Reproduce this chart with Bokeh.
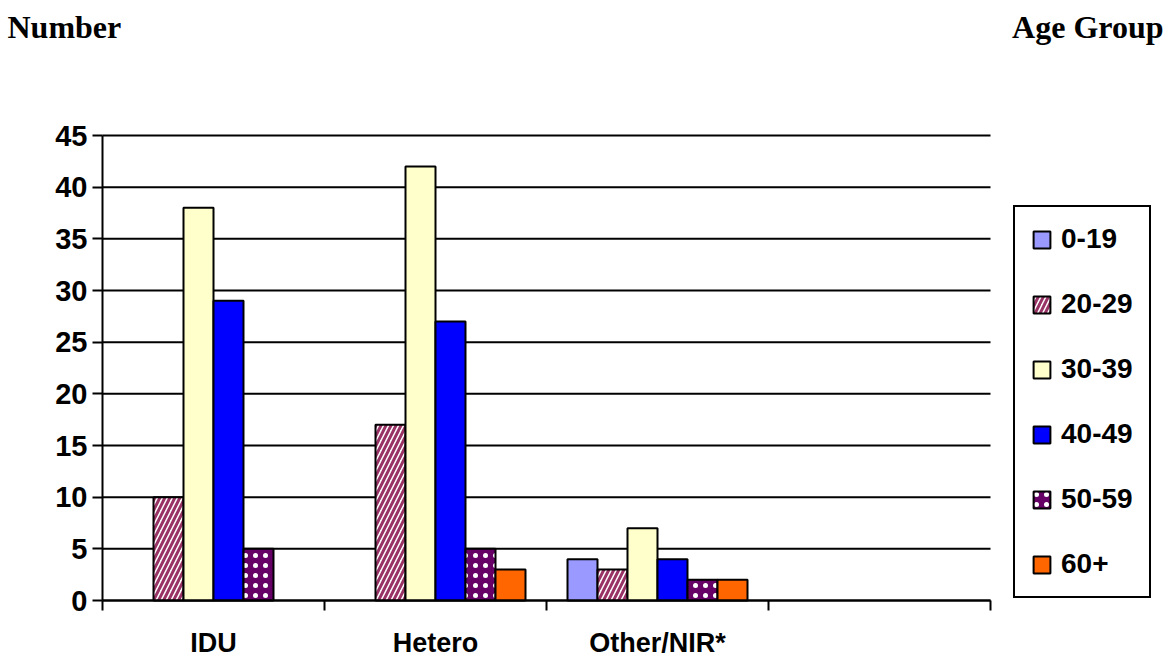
from bokeh.plotting import figure
from bokeh.models import (ColumnDataSource, Range1d, FixedTicker, Legend, LegendItem, Label)
from bokeh.embed import file_html
from bokeh.resources import INLINE

# Transmission categories (the fourth slot on the axis is left empty)
categories = ["IDU", "Hetero", "Other/NIR*"]
age_groups = ["0-19", "20-29", "30-39", "40-49", "50-59", "60+"]

# Counts per age group, one list per category
idu = [0, 10, 38, 29, 5, 0]
hetero = [0, 17, 42, 27, 5, 3]
other = [4, 3, 7, 4, 2, 2]

y_ticks = [0, 5, 10, 15, 20, 25, 30, 35, 40, 45]

header_left = "Number"
header_right = "Age Group"

series_styles = [
    dict(fill_color="#9999FF"),
    dict(fill_color="white", hatch_pattern="/", hatch_color="#993366",
         hatch_scale=10, hatch_weight=3),
    dict(fill_color="#FFFFCC"),
    dict(fill_color="#0000FF"),
    dict(fill_color="#660066", hatch_pattern=".", hatch_color="white",
         hatch_scale=10, hatch_weight=0.5),
    dict(fill_color="#FF6600"),
]

W, H = 1169, 662
n_slots = 4
slot_px = 222.0           # width of one category slot in pixels
unit_px = 465.0 / 45.0    # pixels per count
left_px, base_px = 102.0, 600.0
bar_w = 30.0 / slot_px

# The frame fills the whole canvas; axes are pinned at x=0 / y=0 so that the
# legend and header captions can live inside the frame without being clipped.
x_range = Range1d(-left_px / slot_px, (W - left_px) / slot_px)
y_range = Range1d(-(H - base_px) / unit_px, base_px / unit_px)

p = figure(width=W, height=H, output_backend="svg", toolbar_location=None,
           x_range=x_range, y_range=y_range, min_border=0)
p.outline_line_color = None
p.background_fill_color = "white"
p.border_fill_color = "white"
p.grid.visible = False

# horizontal grid lines and the value axis line, limited to the plotting area
p.segment(x0=[0] * len(y_ticks), x1=[n_slots] * len(y_ticks), y0=y_ticks, y1=y_ticks,
          line_color="black", line_width=2)
p.segment(x0=[0], x1=[0], y0=[0], y1=[max(y_ticks)], line_color="black", line_width=2)

yax = p.yaxis[0]
yax.fixed_location = 0
yax.ticker = FixedTicker(ticks=y_ticks)
yax.axis_line_color = None
yax.major_tick_line_color = "black"
yax.major_tick_line_width = 2
yax.major_tick_out = 10
yax.major_tick_in = 0
yax.minor_tick_line_color = None
yax.major_label_text_font = "Liberation Sans"
yax.major_label_text_font_style = "bold"
yax.major_label_text_font_size = "29px"
yax.major_label_text_color = "black"
yax.major_label_standoff = 5

# category names at slot centres, tick marks at slot boundaries
xax = p.xaxis[0]
xax.fixed_location = 0
centres = [i + 0.5 for i in range(len(categories))]
xax.ticker = FixedTicker(ticks=centres, minor_ticks=list(range(n_slots + 1)))
xax.major_label_overrides = {c: name for c, name in zip(centres, categories)}
xax.axis_line_color = None
xax.major_tick_line_color = None
xax.major_tick_out = 0
xax.major_tick_in = 0
xax.minor_tick_line_color = "black"
xax.minor_tick_line_width = 2
xax.minor_tick_out = 10
xax.minor_tick_in = 0
xax.major_label_text_font = "Liberation Sans"
xax.major_label_text_font_style = "bold"
xax.major_label_text_font_size = "27px"
xax.major_label_text_color = "black"
xax.major_label_standoff = 17

values_by_cat = [idu, hetero, other]
items = []
for j, (grp, style) in enumerate(zip(age_groups, series_styles)):
    xs, tops = [], []
    for i, vals in enumerate(values_by_cat):
        if vals[j] > 0:
            xs.append(i + 0.5 + (j - 2.5) * bar_w)
            tops.append(vals[j])
    src = ColumnDataSource(dict(x=xs, top=tops))
    r = p.vbar(x="x", top="top", width=bar_w, source=src,
               line_color="black", line_width=2, **style)
    items.append(LegendItem(label=grp, renderers=[r]))

# category axis baseline drawn over the bar bottoms
p.segment(x0=[0], x1=[n_slots], y0=[0], y1=[0], line_color="black", line_width=2)

legend = Legend(items=items, location=(1013, H - 598))
legend.border_line_color = "black"
legend.border_line_width = 2
legend.border_line_alpha = 1
legend.background_fill_color = "white"
legend.background_fill_alpha = 1
legend.label_text_font = "Liberation Sans"
legend.label_text_font_style = "bold"
legend.label_text_font_size = "28px"
legend.label_text_color = "black"
legend.glyph_width = 21
legend.glyph_height = 21
legend.label_height = 21
legend.label_standoff = 9
legend.spacing = 33
legend.padding = 16
legend.margin = 0
p.add_layout(legend, "center")

for txt, x, align in [(header_left, 7, "left"), (header_right, 1163, "right")]:
    p.add_layout(Label(x=x, y=H - 26, x_units="screen", y_units="screen", text=txt,
                       text_font="Liberation Serif", text_font_style="bold",
                       text_font_size="32px", text_align=align,
                       text_baseline="middle", text_color="black"))

open("out.html", "w").write(file_html(p, INLINE))
